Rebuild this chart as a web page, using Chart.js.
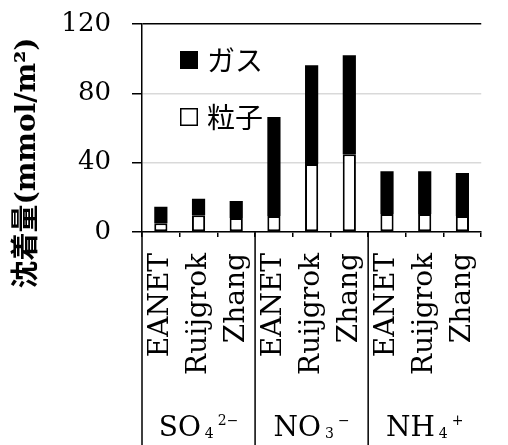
<!DOCTYPE html>
<html>
<head>
<meta charset="utf-8">
<script src="https://cdn.jsdelivr.net/npm/chart.js@4/dist/chart.umd.min.js"></script>
<style>
  html, body { margin: 0; padding: 0; background: #fff; overflow: hidden; }
  #wrap { width: 508px; height: 445px; overflow: hidden; }
</style>
</head>
<body>
<div id="wrap"><canvas id="chart" width="512" height="445"></canvas></div>
<script>
// x labels (models) and the ion groups under them
const models = ["EANET", "Ruijgrok", "Zhang", "EANET", "Ruijgrok", "Zhang", "EANET", "Ruijgrok", "Zhang"];
const groupBase = ["SO", "NO", "NH"];
const groupSub = ["4", "3", "4"];
const groupSup = ["2\u2212", "\u2212", "+"];

// deposition, mmol/m2
const particle = [5.0, 9.6, 8.1, 9.2, 39.2, 44.8, 10.4, 10.4, 9.2];
const gas = [9.6, 9.6, 9.8, 57.1, 57.0, 57.2, 24.6, 24.6, 24.8];

const yTicks = [0, 40, 80, 120];
const yTitle = "沈着量(mmol/m\u00b2)";

const serif = '"DejaVu Serif", "Liberation Serif", serif';
const jp = '"Noto Sans CJK JP", sans-serif';

Chart.defaults.font.family = serif;
Chart.defaults.color = "#000";

// legend drawn inside the plot, top left
const innerLegend = {
    id: "innerLegend",
    afterDraw(chart) {
        const ctx = chart.ctx;
        const area = chart.chartArea;
        const sets = chart.data.datasets.slice().reverse();
        ctx.save();
        for (var i = 0; i < sets.length; i++) {
            var y = area.top + 36 + i * 57;
            var x = area.left + 38;
            ctx.fillStyle = sets[i].backgroundColor;
            ctx.fillRect(x, y - 9, 18, 18);
            ctx.strokeStyle = "#000";
            ctx.lineWidth = 1.5;
            ctx.strokeRect(x + 0.75, y - 8.25, 16.5, 16.5);
            ctx.fillStyle = "#000";
            ctx.font = "28px " + jp;
            ctx.textAlign = "left";
            ctx.textBaseline = "middle";
            ctx.fillText(sets[i].label, x + 27, y);
        }
        ctx.restore();
    }
};

// y title, group separators and the ion names under the axis
const extras = {
    id: "extras",
    afterDraw(chart) {
        const ctx = chart.ctx;
        const area = chart.chartArea;
        const xs = chart.scales.x;
        const h = chart.height;
        ctx.save();

        ctx.translate(28, 163);
        ctx.rotate(-Math.PI / 2);
        ctx.font = "bold 28px " + serif + ", " + jp;
        ctx.textAlign = "center";
        ctx.textBaseline = "middle";
        ctx.fillStyle = "#000";
        ctx.fillText(yTitle, 0, 0);
        ctx.setTransform(1, 0, 0, 1, 0, 0);

        ctx.strokeStyle = "#000";
        ctx.lineWidth = 1.5;
        ctx.beginPath();
        ctx.moveTo(area.left, area.bottom);
        ctx.lineTo(area.left, h);
        for (var g = 1; g < groupBase.length; g++) {
            var sx = (xs.getPixelForValue(g * 3 - 1) + xs.getPixelForValue(g * 3)) / 2;
            ctx.moveTo(sx, area.bottom);
            ctx.lineTo(sx, h);
        }
        ctx.stroke();

        ctx.textBaseline = "alphabetic";
        ctx.textAlign = "left";
        for (var k = 0; k < groupBase.length; k++) {
            var cx = xs.getPixelForValue(k * 3 + 1);
            ctx.font = "28px " + serif;
            var wb = ctx.measureText(groupBase[k]).width;
            ctx.font = "14px " + serif;
            var ws = ctx.measureText(groupSub[k]).width;
            var wp = ctx.measureText(groupSup[k]).width;
            var total = wb + 4 + ws + 4 + wp;
            var x0 = cx - total / 2;
            var base = 436;
            ctx.font = "28px " + serif;
            ctx.fillText(groupBase[k], x0, base);
            ctx.font = "14px " + serif;
            ctx.fillText(groupSub[k], x0 + wb + 4, base + 2);
            ctx.fillText(groupSup[k], x0 + wb + 4 + ws + 4, base - 11);
        }
        ctx.restore();
    }
};

const chart = new Chart(document.getElementById("chart"), {
    type: "bar",
    data: {
        labels: models,
        datasets: [
            {
                label: "粒子",
                data: particle,
                backgroundColor: "#fff",
                borderColor: "#000",
                borderWidth: 2,
                borderSkipped: false
            },
            {
                label: "ガス",
                data: gas,
                backgroundColor: "#000",
                borderWidth: 0
            }
        ]
    },
    options: {
        responsive: false,
        animation: false,
        layout: { padding: { top: 24, left: 0, right: 0, bottom: 0 } },
        datasets: { bar: { barPercentage: 0.35, categoryPercentage: 1 } },
        plugins: {
            legend: { display: false },
            tooltip: { enabled: false }
        },
        scales: {
            x: {
                stacked: true,
                afterFit(scale) { scale.height = 213; },
                grid: {
                    offset: true,
                    drawOnChartArea: false,
                    tickLength: 5,
                    color: "#000",
                    lineWidth: 1.5
                },
                border: { color: "#000", width: 1.5 },
                ticks: {
                    minRotation: 90,
                    maxRotation: 90,
                    autoSkip: false,
                    padding: 16,
                    font: { size: 28 }
                }
            },
            y: {
                stacked: true,
                min: 0,
                max: 120,
                afterFit(scale) {
                    scale.width = 142;
                    scale.paddingTop = 0;
                    scale.paddingBottom = 0;
                },
                afterBuildTicks(scale) { scale.ticks = yTicks.map(v => ({ value: v })); },
                grid: {
                    color: ctx => (ctx.tick && ctx.tick.value === 120) ? "#000" : "#d9d9d9",
                    lineWidth: 1.5,
                    tickColor: "#000",
                    tickLength: 10
                },
                border: { color: "#000", width: 1.5 },
                ticks: {
                    padding: 21,
                    font: { size: 26 }
                }
            }
        }
    },
    plugins: [innerLegend, extras]
});
</script>
</body>
</html>
